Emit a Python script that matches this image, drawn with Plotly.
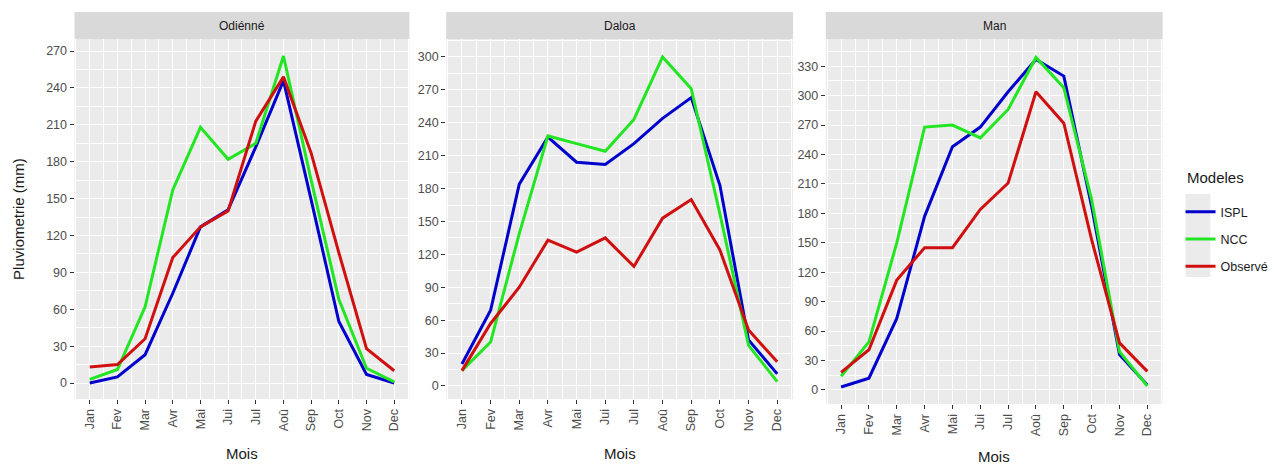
import plotly.graph_objects as go

months = ["Jan", "Fev", "Mar", "Avr", "Mai", "Jui", "Jul", "Aoû", "Sep", "Oct", "Nov", "Dec"]
stations = ["Odiénné", "Daloa", "Man"]
series_names = ["ISPL", "NCC", "Observé"]
colors = {"ISPL": "#0000CD", "NCC": "#22E622", "Observé": "#D01010"}

odienne_ispl = [0, 5, 23, 73, 127, 141, 192, 246, 149, 50, 7, 0]
odienne_ncc = [3, 11, 62, 157, 208, 182, 195, 266, 165, 68, 12, 1]
odienne_obs = [13, 15, 36, 102, 127, 140, 213, 249, 187, 106, 28, 10]

daloa_ispl = [20, 69, 184, 227, 204, 202, 221, 244, 263, 183, 42, 11]
daloa_ncc = [14, 40, 139, 228, 221, 214, 243, 300, 271, 157, 37, 4]
daloa_obs = [14, 57, 90, 133, 122, 135, 109, 153, 170, 124, 51, 22]

man_ispl = [3, 12, 73, 177, 248, 268, 304, 337, 320, 187, 36, 5]
man_ncc = [14, 49, 150, 268, 270, 257, 286, 339, 308, 194, 39, 4]
man_obs = [18, 41, 112, 145, 145, 184, 211, 304, 272, 153, 48, 19]

data = {
    "Odiénné": [odienne_ispl, odienne_ncc, odienne_obs],
    "Daloa": [daloa_ispl, daloa_ncc, daloa_obs],
    "Man": [man_ispl, man_ncc, man_obs],
}

y_ticks = {
    "Odiénné": list(range(0, 271, 30)),
    "Daloa": list(range(0, 301, 30)),
    "Man": list(range(0, 331, 30)),
}
y_ranges = {"Odiénné": [-13, 279.8], "Daloa": [-11.9, 316.4], "Man": [-14.3, 357.8]}

W, H = 1274, 466
# panel pixel boxes (left, right, top, bottom)
boxes = [(75, 412, 39, 399), (449, 798, 39, 399), (831, 1170, 39, 404)]
strip_top = 12
title_y = [453, 453, 456]

FONT = "Liberation Sans, Arial"
fig = go.Figure()
x_idx = list(range(len(months)))

for i, st in enumerate(stations):
    ax = "" if i == 0 else str(i + 1)
    for j, name in enumerate(series_names):
        fig.add_trace(go.Scatter(
            x=x_idx, y=data[st][j], mode="lines", name=name,
            line=dict(color=colors[name], width=3),
            xaxis="x" + ax, yaxis="y" + ax,
            showlegend=(i == 0), legendgroup=name,
        ))
    l, r, t, b = boxes[i]
    xd = [l / W, r / W]
    yd = [1 - b / H, 1 - t / H]
    fig.layout["xaxis" + ax] = dict(
        domain=xd, range=[-0.55, 11.55], anchor="y" + ax,
        tickmode="array", tickvals=x_idx, ticktext=months, tickangle=-90,
        showgrid=True, gridcolor="white", gridwidth=1.3,
        minor=dict(tick0=0.5, dtick=1, showgrid=True, gridcolor="white", gridwidth=0.6),
        ticks="outside", ticklen=4, tickcolor="#333333", tickwidth=1,
        tickfont=dict(family=FONT, size=12.5, color="#4D4D4D"),
        zeroline=False, showline=False, fixedrange=True,
    )
    yt = y_ticks[st]
    fig.layout["yaxis" + ax] = dict(
        domain=yd, range=y_ranges[st], anchor="x" + ax,
        tickmode="array", tickvals=yt, ticktext=[str(v) for v in yt],
        showgrid=True, gridcolor="white", gridwidth=1.3,
        minor=dict(tick0=15, dtick=30, showgrid=True, gridcolor="white", gridwidth=0.6),
        ticks="outside", ticklen=4, tickcolor="#333333", tickwidth=1,
        tickfont=dict(family=FONT, size=12.5, color="#4D4D4D"),
        zeroline=False, showline=False, fixedrange=True,
    )
    fig.add_shape(type="rect", xref="paper", yref="paper",
                  x0=xd[0], x1=xd[1], y0=yd[0], y1=yd[1],
                  fillcolor="#EBEBEB", line=dict(width=0), layer="below")
    fig.add_shape(type="rect", xref="paper", yref="paper",
                  x0=xd[0], x1=xd[1], y0=1 - t / H, y1=1 - strip_top / H,
                  fillcolor="#D9D9D9", line=dict(width=0), layer="below")
    fig.add_annotation(text=st, xref="paper", yref="paper",
                       x=(xd[0] + xd[1]) / 2, y=1 - (strip_top + t) / 2 / H,
                       showarrow=False, xanchor="center", yanchor="middle",
                       font=dict(family=FONT, size=12, color="#1A1A1A"))
    fig.add_annotation(text="Mois", xref="paper", yref="paper",
                       x=(xd[0] + xd[1]) / 2, y=1 - title_y[i] / H,
                       showarrow=False, xanchor="center", yanchor="middle",
                       font=dict(family=FONT, size=15, color="#1A1A1A"))

fig.add_annotation(text="Pluviometrie (mm)", xref="paper", yref="paper",
                   x=18 / W, y=1 - 219 / H, textangle=-90,
                   showarrow=False, xanchor="center", yanchor="middle",
                   font=dict(family=FONT, size=15, color="#1A1A1A"))

# legend title and key background
fig.add_annotation(text="Modeles", xref="paper", yref="paper",
                   x=1192 / W, y=1 - 178 / H, showarrow=False,
                   xanchor="left", yanchor="middle",
                   font=dict(family=FONT, size=15, color="#1A1A1A"))
fig.add_shape(type="rect", xref="paper", yref="paper",
              x0=1193 / W, x1=1218 / W, y0=1 - 277 / H, y1=1 - 194 / H,
              fillcolor="#EBEBEB", line=dict(width=0), layer="below")

fig.update_layout(
    width=W, height=H,
    margin=dict(l=0, r=0, t=0, b=0),
    paper_bgcolor="white", plot_bgcolor="rgba(0,0,0,0)",
    showlegend=True,
    legend=dict(
        x=1188 / W, y=1 - 197 / H, xanchor="left", yanchor="top",
        font=dict(family=FONT, size=12.5, color="#1A1A1A"),
        bgcolor="rgba(0,0,0,0)", itemwidth=30, tracegroupgap=8,
    ),
)

fig.write_html("out.html", config={"displayModeBar": False},
               post_script="document.body.style.margin='0';document.body.style.overflow='hidden';")
